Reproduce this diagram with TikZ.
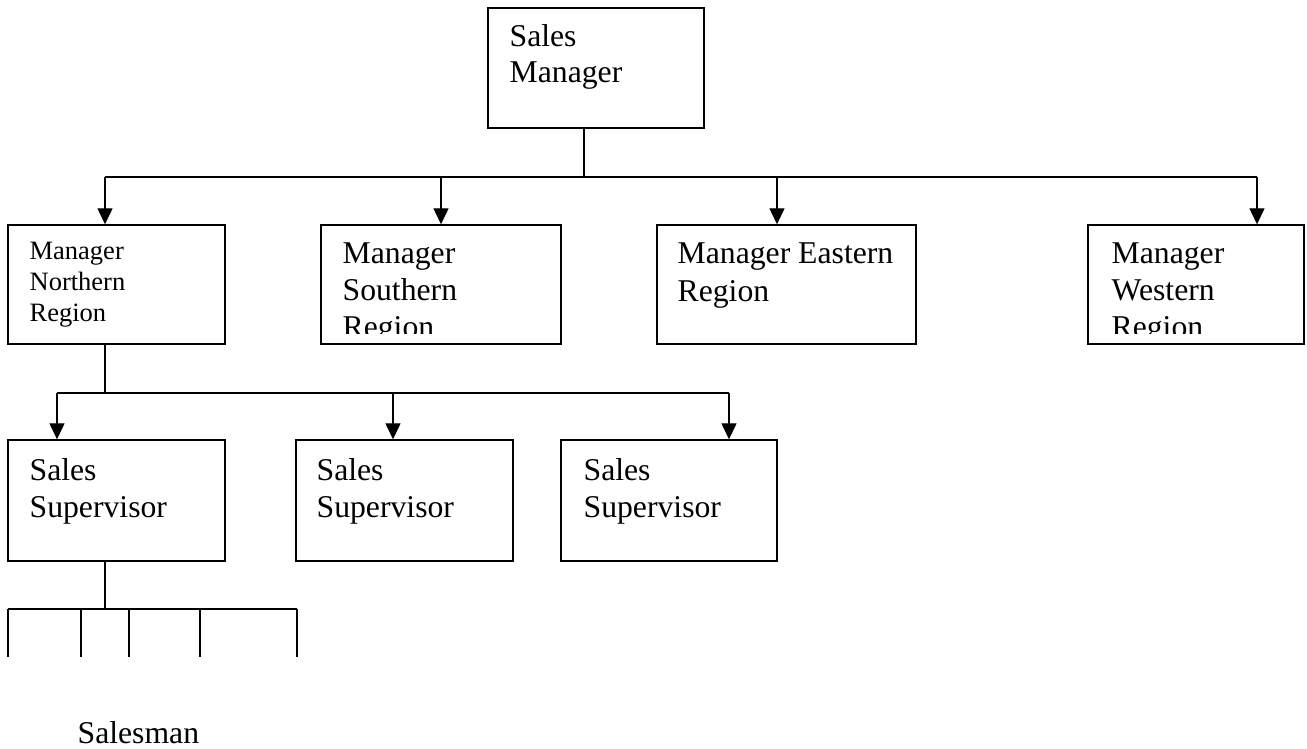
\documentclass[tikz,border=0pt]{standalone}
\usepackage{fontspec}
\setmainfont{Liberation Serif}
\usetikzlibrary{arrows.meta}

\begin{document}
\begin{tikzpicture}[x=1pt,y=-1pt,
  line width=1.3pt,
  box/.style={draw, rectangle, inner sep=0pt, line width=1.4pt},
  txt/.style={anchor=base west, inner sep=0pt, font=\fontsize{31.7}{37}\selectfont},
  smalltxt/.style={anchor=base west, inner sep=0pt, font=\fontsize{26.5}{31}\selectfont},
  arr/.style={-{Triangle[length=16pt,width=15pt]}}]

\useasboundingbox (0,0) rectangle (1307,749);

% ---- boxes ----
\node[box, minimum width=216pt, minimum height=120pt] (sm) at (596,68) {};
\node[box, minimum width=217pt, minimum height=119pt] (mn) at (116.5,284.5) {};
\node[box, minimum width=240pt, minimum height=119pt] (ms) at (441,284.5) {};
\node[box, minimum width=259pt, minimum height=119pt] (me) at (786.5,284.5) {};
\node[box, minimum width=216pt, minimum height=119pt] (mw) at (1196,284.5) {};
\node[box, minimum width=217pt, minimum height=121pt] (s1) at (116.5,500.5) {};
\node[box, minimum width=217pt, minimum height=121pt] (s2) at (404.5,500.5) {};
\node[box, minimum width=216pt, minimum height=121pt] (s3) at (669,500.5) {};

% ---- box texts ----
\node[txt] (smA) at (509,47) {Sales};
\node[txt] (smB) at (509,83) {Manager};

\node[smalltxt] (mnA) at (29,259) {Manager};
\node[smalltxt] (mnB) at (29,290) {Northern};
\node[smalltxt] (mnC) at (29,321) {Region};

\begin{scope}
  \clip (ms.north west) rectangle (561,333);
  \node[txt] (msA) at (342,263) {Manager};
  \node[txt] (msB) at (342,300) {Southern};
  \node[txt] (msC) at (342,337) {Region};
\end{scope}

\node[txt] (meA) at (677,263) {Manager Eastern};
\node[txt] (meB) at (677,301) {Region};

\begin{scope}
  \clip (mw.north west) rectangle (1304,333);
  \node[txt] (mwA) at (1111,263) {Manager};
  \node[txt] (mwB) at (1111,300) {Western};
  \node[txt] (mwC) at (1111,337) {Region};
\end{scope}

\node[txt] (s1A) at (29,480) {Sales};
\node[txt] (s1B) at (29,517) {Supervisor};
\node[txt] (s2A) at (316,480) {Sales};
\node[txt] (s2B) at (316,517) {Supervisor};
\node[txt] (s3A) at (583,480) {Sales};
\node[txt] (s3B) at (583,517) {Supervisor};

\node[txt] (salesman) at (77,743) {Salesman};

% ---- level 1 connectors ----
\coordinate (t1) at (584,177);
\coordinate (a1) at (105,177);
\coordinate (a2) at (441,177);
\coordinate (a3) at (777,177);
\coordinate (a4) at (1257,177);
\draw (t1 |- sm.south) -- (t1);
\draw (a1) -- (a4);
\draw[arr] (a1) -- (a1 |- mn.north);
\draw[arr] (a2) -- (a2 |- ms.north);
\draw[arr] (a3) -- (a3 |- me.north);
\draw[arr] (a4) -- (a4 |- mw.north);

% ---- level 2 connectors ----
\coordinate (t2) at (105,393);
\coordinate (b1) at (57,393);
\coordinate (b2) at (393,393);
\coordinate (b3) at (729,393);
\draw (t2 |- mn.south) -- (t2);
\draw (b1) -- (b3);
\draw[arr] (b1) -- (b1 |- s1.north);
\draw[arr] (b2) -- (b2 |- s2.north);
\draw[arr] (b3) -- (b3 |- s3.north);

% ---- salesman branches ----
\coordinate (t3) at (105,609);
\coordinate (c1) at (8,609);
\coordinate (c2) at (81,609);
\coordinate (c3) at (129,609);
\coordinate (c4) at (200,609);
\coordinate (c5) at (297,609);
\draw (t3 |- s1.south) -- (t3);
\draw (c1) -- (c5);
\foreach \c in {c1,c2,c3,c4,c5} {
  \draw (\c) -- ++(0,48);
}
\end{tikzpicture}
\end{document}
